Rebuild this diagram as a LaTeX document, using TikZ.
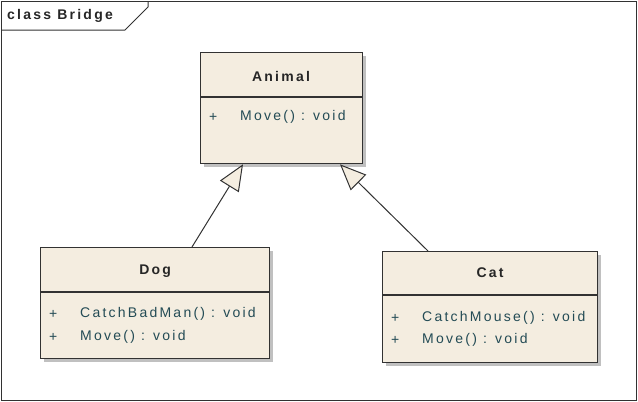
\documentclass[tikz,border=0pt]{standalone}
\usepackage{fontspec}
\newfontfamily\umlfont{Liberation Sans}[LetterSpace=16]
\usetikzlibrary{arrows.meta,shadows}
\definecolor{cream}{RGB}{244,237,224}
\definecolor{umlline}{RGB}{50,50,50}
\definecolor{opcol}{RGB}{35,75,85}
\begin{document}
\begin{tikzpicture}[x=1pt,y=-1pt,
  every node/.style={font=\umlfont\fontsize{14pt}{16pt}\selectfont, inner sep=0pt},
  classbox/.style={draw=umlline, line width=1.3pt, fill=cream, anchor=north west,
    drop shadow={shadow xshift=3pt, shadow yshift=-3pt, opacity=0.45, fill=black!55}},
  cname/.style={font=\umlfont\bfseries\fontsize{14pt}{16pt}\selectfont, text=black!85},
  vis/.style={text=opcol, anchor=west},
  op/.style={text=opcol, anchor=west},
  sep/.style={draw=umlline, line width=1.3pt},
  inh/.style={draw=umlline, line width=1pt, -{Triangle[length=26pt,width=22pt,fill=cream,line width=1pt]}}
]
\useasboundingbox (0,0) rectangle (638,402);
% frame
\draw[umlline, line width=1pt] (1,1) rectangle (636,400);
\draw[umlline, line width=1pt] (1,30) -- (125,30) -- (148,7) -- (148,1);
\node[font=\umlfont\bfseries\fontsize{14pt}{16pt}\selectfont, text=black!85, anchor=west] (title) at (7,16) {class Bridge};
% Animal
\node[classbox, minimum width=162pt, minimum height=111pt] (animal) at (200,52) {};
\draw[sep] ([yshift=-45pt]animal.north west) -- ([yshift=-45pt]animal.north east);
\node[cname] (animalname) at (281,76) {Animal};
\node[vis] (animalv1) at (209,117) {+};
\node[op] (animalop1) at (240,117) {Move() : void};
% Dog
\node[classbox, minimum width=229pt, minimum height=111pt] (dog) at (40,247) {};
\draw[sep] ([yshift=-45pt]dog.north west) -- ([yshift=-45pt]dog.north east);
\node[cname] (dogname) at (dog.north |- 0,271) {Dog};
\node[vis] (dogv1) at (49,314) {+};
\node[op] (dogop1) at (80,314) {CatchBadMan() : void};
\node[vis] (dogv2) at (49,337) {+};
\node[op] (dogop2) at (80,337) {Move() : void};
% Cat
\node[classbox, minimum width=215pt, minimum height=111pt] (cat) at (382,251) {};
\draw[sep] ([yshift=-44pt]cat.north west) -- ([yshift=-44pt]cat.north east);
\node[cname] (catname) at (cat.north |- 0,273) {Cat};
\node[vis] (catv1) at (391,318) {+};
\node[op] (catop1) at (422,318) {CatchMouse() : void};
\node[vis] (catv2) at (391,340) {+};
\node[op] (catop2) at (422,340) {Move() : void};
% generalizations
\draw[inh] ([xshift=152pt]dog.north west) -- ([xshift=43pt]animal.south west);
\draw[inh] ([xshift=46pt]cat.north west) -- ([xshift=140pt]animal.south west);
\end{tikzpicture}
\end{document}
